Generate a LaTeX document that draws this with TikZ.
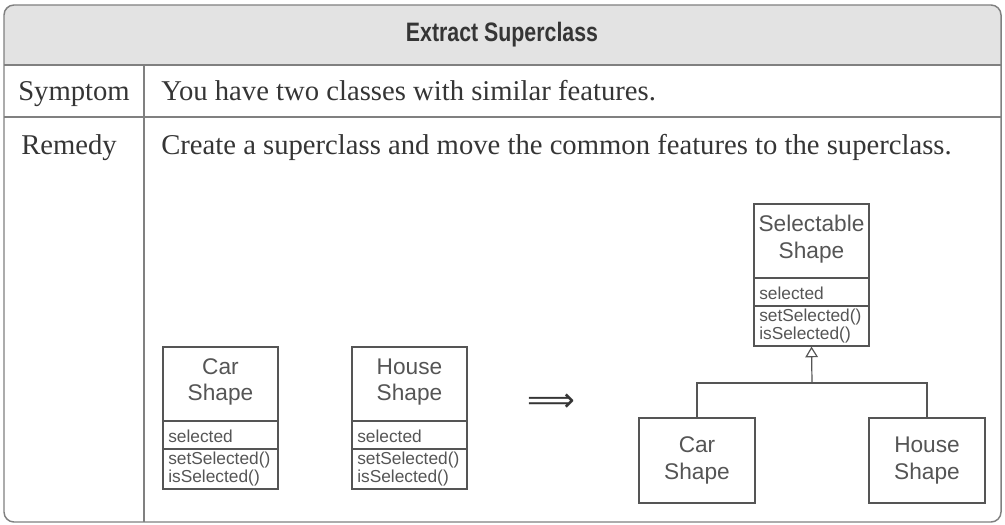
\documentclass[tikz,border=0pt]{standalone}
\usepackage{fontspec}
\setmainfont{Liberation Serif}
\newfontfamily\umlfont{Liberation Sans}
\newfontfamily\headfont[FakeStretch=0.8]{Liberation Sans}
\newfontfamily\symfont{DejaVu Sans}
\usetikzlibrary{arrows.meta}
\definecolor{framegray}{HTML}{808080}
\definecolor{headgray}{HTML}{E3E3E3}
\definecolor{inkgray}{HTML}{353535}
\definecolor{umlgray}{HTML}{555555}
\begin{document}
\begin{tikzpicture}[x=0.75pt,y=-0.75pt,
  cls/.style={draw=umlgray,line width=0.9pt,minimum width=86.25pt,inner sep=0pt},
  clsname/.style={text=umlgray,font=\umlfont\fontsize{17}{20}\selectfont,align=center,inner sep=0pt},
  clsitem/.style={text=umlgray,font=\umlfont\fontsize{13}{13.5}\selectfont,align=left,anchor=west,inner sep=0pt},
  cell/.style={text=inkgray,font=\fontsize{21.5}{26}\selectfont,anchor=base west,inner sep=0pt}]
  \useasboundingbox (0,0) rectangle (1005,524);
  \begin{scope}
    \clip (0,0) rectangle (1005,65);
    \fill[headgray,rounded corners=7.5pt] (4,5) rectangle (1001,522);
  \end{scope}
  \draw[framegray,line width=1.1pt,rounded corners=7.5pt] (4,5) rectangle (1001,522);
  \draw[framegray,line width=1.1pt] (4,65) -- (1001,65) (4,117) -- (1001,117) (144,65) -- (144,522);
  \node[font=\headfont\bfseries\fontsize{20}{22}\selectfont,text=inkgray] (title) at (502,35) {Extract Superclass};
  \node[cell] (symptom) at (18,101) {Symptom};
  \node[cell] (symptomtext) at (161,101) {You have two classes with similar features.};
  \node[cell] (remedy) at (21,155) {Remedy};
  \node[cell] (remedytext) at (161,155) {Create a superclass and move the common features to the superclass.};
  % classes with full compartments
  \foreach \nm/\cx/\cy/\ta/\tb in {caro/163/347/Car/Shape,houseo/352/347/House/Shape,selectable/754/204/Selectable/Shape}{
    \node[cls,minimum height=106.5pt] (\nm) at (\cx+57.5,\cy+71) {};
    \draw[umlgray,line width=0.9pt] (\cx,\cy+74) -- ++(115,0) (\cx,\cy+102) -- ++(115,0);
    \node[clsname] (\nm-name) at (\cx+57.5,\cy+35) {\ta\\\tb};
    \node[clsitem] (\nm-attr) at (\cx+5,\cy+89) {selected};
    \node[clsitem] (\nm-ops) at (\cx+5,\cy+122) {setSelected()\\isSelected()};
  }
  \node[font=\symfont\fontsize{25}{25}\selectfont,text=inkgray] (becomes) at (551,403) {⟹};
  \node[cls,clsname,minimum width=87pt,minimum height=63.75pt] (carn) at (697,460.5) {Car\\Shape};
  \node[cls,clsname,minimum width=87pt,minimum height=63.75pt] (housen) at (927,460.5) {House\\Shape};
  \coordinate (fork) at (812,383);
  \draw[umlgray,line width=0.9pt] (carn.north) |- (fork) -| (housen.north);
  \draw[umlgray,line width=0.9pt,-{Triangle[open,length=8pt,width=9.5pt]}] (fork) -- (selectable.south);
\end{tikzpicture}
\end{document}
